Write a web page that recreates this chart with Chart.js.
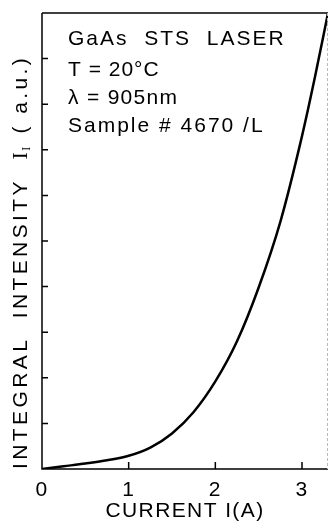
<!DOCTYPE html>
<html>
<head>
<meta charset="utf-8">
<script src="https://cdn.jsdelivr.net/npm/chart.js@4"></script>
<style>
  html, body { margin: 0; padding: 0; background: #fff; }
  #wrap { width: 330px; height: 521px; }
</style>
</head>
<body>
<div id="wrap"><canvas id="chart" width="330" height="521"></canvas></div>
<script>
// current in A, intensity in a.u.
const currents = [0, 0.25, 0.5, 0.75, 1.0, 1.25, 1.5, 1.75, 2.0, 2.25, 2.5, 2.75, 3.0, 3.15, 3.3];
const intensity = [0, 0.06, 0.12, 0.19, 0.29, 0.47, 0.78, 1.25, 1.92, 2.8, 3.98, 5.42, 7.3, 8.6, 10.0];
const xTicks = [0, 1, 2, 3];
const yTicks = [1, 2, 3, 4, 5, 6, 7, 8, 9];
const notes = ['GaAs  STS  LASER', 'T = 20°C', 'λ = 905nm', 'Sample # 4670 /L'];

const FONT = '"Liberation Sans", Arial, sans-serif';

const spacing = {
  id: 'spacing',
  beforeDraw(chart) { chart.ctx.letterSpacing = '1.4px'; }
};

// inward ticks, frame, y title and the text block
const drawExtras = {
  id: 'drawExtras',
  afterDraw(chart) {
    const ctx = chart.ctx;
    const a = chart.chartArea;
    const xs = chart.scales.x, ys = chart.scales.y;
    ctx.save();
    ctx.letterSpacing = '0px';
    ctx.strokeStyle = '#000';
    ctx.lineWidth = 1.5;
    ctx.beginPath();
    ctx.moveTo(a.left, a.top); ctx.lineTo(a.left, a.bottom); ctx.lineTo(a.right, a.bottom);
    ctx.moveTo(a.left, a.top); ctx.lineTo(a.right, a.top);
    ctx.stroke();
    // faint right edge
    ctx.strokeStyle = '#bbb';
    ctx.lineWidth = 1;
    ctx.setLineDash([3, 2]);
    ctx.beginPath();
    ctx.moveTo(a.right - 0.5, a.top); ctx.lineTo(a.right - 0.5, a.bottom);
    ctx.stroke();
    ctx.setLineDash([]);

    ctx.strokeStyle = '#000';
    ctx.lineWidth = 1.5;
    ctx.beginPath();
    yTicks.forEach(v => {
      const y = ys.getPixelForValue(v);
      ctx.moveTo(a.left, y); ctx.lineTo(a.left + 6, y);
    });
    xTicks.slice(1).forEach(v => {
      const x = xs.getPixelForValue(v);
      ctx.moveTo(x, a.bottom); ctx.lineTo(x, a.bottom - 7);
    });
    ctx.stroke();

    // text block
    ctx.fillStyle = '#000';
    ctx.font = '21px ' + FONT;
    ctx.textBaseline = 'middle';
    ctx.textAlign = 'left';
    const lineY = [39, 70, 98, 126];
    const gaps = ['2px', '1px', '1.3px', '2px'];
    notes.forEach((t, i) => {
      ctx.letterSpacing = gaps[i];
      ctx.fillText(t, 68, lineY[i]);
    });

    // y axis title, rotated, with subscript
    ctx.translate(21, 469);
    ctx.rotate(-Math.PI / 2);
    ctx.textBaseline = 'middle';
    ctx.letterSpacing = '3.4px';
    ctx.font = '21px ' + FONT;
    let x = 0;
    const part1 = 'INTEGRAL  INTENSITY  ';
    ctx.fillText(part1, x, 0);
    x += ctx.measureText(part1).width;
    ctx.font = '22px "Liberation Serif", serif';
    ctx.fillText('I', x, 0);
    x += ctx.measureText('I').width;
    ctx.font = '12px "Liberation Serif", serif';
    ctx.fillText('I', x - 2, 6);
    x += ctx.measureText('I').width + 8;
    ctx.font = '21px ' + FONT;
    ctx.fillText('( a.u.)', x, 0);
    ctx.restore();
  }
};

new Chart(document.getElementById('chart'), {
  type: 'line',
  data: {
    datasets: [{
      data: currents.map((c, i) => ({ x: c, y: intensity[i] })),
      borderColor: '#000',
      borderWidth: 2.5,
      pointRadius: 0,
      cubicInterpolationMode: 'monotone',
      fill: false
    }]
  },
  options: {
    responsive: false,
    animation: false,
    layout: { padding: { top: 13, right: 2, left: 0, bottom: 0 } },
    plugins: { legend: { display: false }, tooltip: { enabled: false } },
    scales: {
      x: {
        type: 'linear',
        min: 0,
        max: 3.3,
        border: { display: false },
        grid: { display: false, drawTicks: false },
        ticks: {
          stepSize: 1,
          includeBounds: false,
          padding: 11,
          color: '#000',
          font: { family: FONT, size: 21, lineHeight: 1 },
          maxRotation: 0
        },
        title: {
          display: true,
          text: 'CURRENT I(A)',
          color: '#000',
          font: { family: FONT, size: 21, lineHeight: 1 },
          padding: { top: 0, bottom: -1 }
        },
        afterFit(s) { s.height = 52; }
      },
      y: {
        type: 'linear',
        min: 0,
        max: 10,
        border: { display: false },
        grid: { display: false, drawTicks: false },
        ticks: { display: false },
        afterFit(s) { s.width = 42; }
      }
    }
  },
  plugins: [spacing, drawExtras]
});
</script>
</body>
</html>
